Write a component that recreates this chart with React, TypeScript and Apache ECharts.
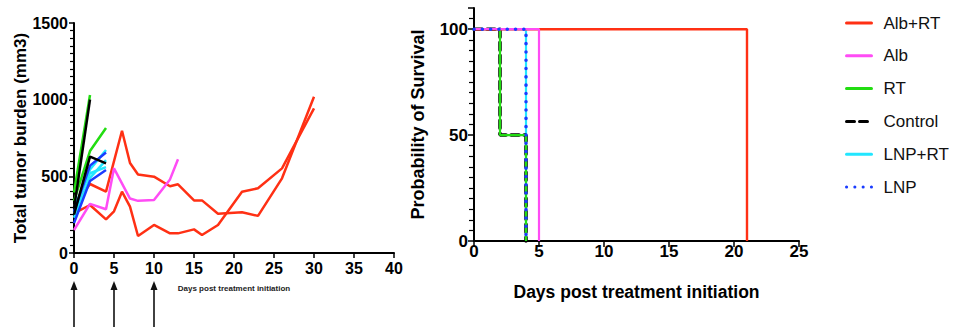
import React, { useEffect, useRef } from "react";
import * as echarts from "echarts";

// ---------- Tumor burden (left panel) ----------
const tumorXTicksMax = 40;
const albRtTumor1: [number, number][] = [[0, 306], [2, 450], [4, 400], [6, 797], [7, 587], [8, 512], [10, 498], [12, 435], [13, 448], [15, 343], [16, 343], [18, 256], [21, 266], [23, 242], [26, 487], [30, 1019]];
const albRtTumor2: [number, number][] = [[0, 259], [2, 313], [4, 219], [5, 272], [6, 400], [7, 302], [8, 111], [10, 183], [12, 128], [13, 128], [15, 154], [16, 117], [18, 183], [21, 400], [23, 422], [26, 552], [30, 943]];
const albTumor1: [number, number][] = [[0, 150], [2, 320], [4, 285], [5, 552], [7, 355], [8, 340], [10, 345], [12, 480], [13, 611]];
const rtTumor1: [number, number][] = [[0, 395], [2, 1030]];
const rtTumor2: [number, number][] = [[0, 340], [2, 665], [4, 815]];
const controlTumor1: [number, number][] = [[0, 290], [2, 1000]];
const controlTumor2: [number, number][] = [[0, 250], [2, 628], [4, 585]];
const lnpRtTumor1: [number, number][] = [[0, 255], [2, 545], [4, 672]];
const lnpRtTumor2: [number, number][] = [[0, 230], [2, 490], [4, 606]];
const lnpRtTumor3: [number, number][] = [[0, 300], [2, 520], [4, 560]];
const lnpTumor1: [number, number][] = [[0, 270], [2, 570], [4, 656]];
const lnpTumor2: [number, number][] = [[0, 195], [2, 470], [4, 541]];
const treatmentDays = [0, 5, 10];

// ---------- Survival (right panel) ----------
const survivalNames = ["Alb+RT", "Alb", "RT", "Control", "LNP+RT", "LNP"];
const survAlbRt: [number, number][] = [[0, 100], [21, 0]];
const survAlb: [number, number][] = [[0, 100], [5, 0]];
const survRt: [number, number][] = [[0, 100], [2, 50], [4, 0]];
const survControl: [number, number][] = [[0, 100], [2, 50], [4, 0]];
const survLnpRt: [number, number][] = [[0, 100], [4, 0]];
const survLnp: [number, number][] = [[0, 100], [4, 0]];

const RED = "#ff3014";
const MAGENTA = "#ff4cf5";
const GREEN = "#22dd11";
const BLACK = "#000000";
const CYAN = "#22e6ff";
const BLUE = "#1a3cff";

const SANS = '"Liberation Sans", Arial, sans-serif';

export default function App() {
  const ref = useRef<HTMLDivElement>(null);
  useEffect(() => {
    if (!ref.current) return;
    const chart = echarts.init(ref.current, undefined, { renderer: "svg" });

    const tumor = (name: string, data: [number, number][], color: string) => ({
      name,
      type: "line",
      xAxisIndex: 0,
      yAxisIndex: 0,
      data,
      symbol: "none",
      clip: false,
      lineStyle: { color, width: 2.5 },
      itemStyle: { color },
    });
    const surv = (name: string, data: [number, number][], color: string, width: number, type: any, z: number) => ({
      name,
      type: "line",
      xAxisIndex: 1,
      yAxisIndex: 1,
      data,
      step: "end",
      symbol: "none",
      clip: false,
      z,
      lineStyle: { color, width, type, cap: type === "solid" ? "butt" : "round" },
      itemStyle: { color },
    });

    const axisLine = { show: true, onZero: false, lineStyle: { color: "#000", width: 2 } };
    const plain = (v: number) => String(v);

    chart.setOption({
      animation: false,
      legend: {
        data: survivalNames,
        orient: "vertical",
        left: 845,
        top: 13,
        itemWidth: 25,
        itemHeight: 20,
        itemGap: 12.8,
        padding: 0,
        selectedMode: false,
        itemStyle: { opacity: 0 },
        lineStyle: { cap: "round", width: 3 },
        textStyle: { fontFamily: SANS, fontSize: 17, color: "#111", lineHeight: 20, padding: [0, 0, 0, 7] },
      },
      grid: [
        { left: 74, top: 23, width: 320, height: 230 },
        { left: 474, top: 8, width: 325, height: 233 },
      ],
      xAxis: [
        {
          type: "value",
          gridIndex: 0,
          min: 0,
          max: tumorXTicksMax,
          interval: 5,
          name: "Days post treatment initiation",
          nameLocation: "middle",
          nameGap: 31,
          nameTextStyle: { fontFamily: SANS, fontWeight: "bold", fontSize: 8, color: "#222" },
          axisLine,
          axisTick: { show: true, length: 5, lineStyle: { color: "#000", width: 1.5 } },
          axisLabel: { fontFamily: SANS, fontWeight: "bold", fontSize: 16, color: "#000", margin: 7, formatter: plain },
          splitLine: { show: false },
        },
        {
          type: "value",
          gridIndex: 1,
          min: 0,
          max: 25,
          interval: 5,
          name: "Days post treatment initiation",
          nameLocation: "middle",
          nameGap: 42,
          nameTextStyle: { fontFamily: SANS, fontWeight: "bold", fontSize: 17.5, color: "#000" },
          axisLine,
          axisTick: { show: true, length: 6, lineStyle: { color: "#000", width: 1.5 } },
          axisLabel: { fontFamily: SANS, fontWeight: "bold", fontSize: 17, color: "#000", margin: 2, formatter: plain },
          splitLine: { show: false },
        },
      ],
      yAxis: [
        {
          type: "value",
          gridIndex: 0,
          min: 0,
          max: 1500,
          interval: 500,
          name: "Total tumor burden (mm3)",
          nameLocation: "middle",
          nameGap: 45,
          nameTextStyle: { fontFamily: SANS, fontWeight: "bold", fontSize: 17, color: "#000" },
          axisLine,
          axisTick: { show: true, length: 5, lineStyle: { color: "#000", width: 1.5 } },
          minorTick: { show: true, splitNumber: 10, length: 4, lineStyle: { color: "#000", width: 1.2 } },
          axisLabel: { fontFamily: SANS, fontWeight: "bold", fontSize: 16, color: "#000", margin: 6, formatter: plain },
          splitLine: { show: false },
          minorSplitLine: { show: false },
        },
        {
          type: "value",
          gridIndex: 1,
          min: 0,
          max: 110,
          interval: 50,
          name: "Probability of Survival",
          nameLocation: "middle",
          nameGap: 47,
          nameTextStyle: { fontFamily: SANS, fontWeight: "bold", fontSize: 18, color: "#000" },
          axisLine,
          axisTick: { show: true, length: 6, lineStyle: { color: "#000", width: 1.5 } },
          minorTick: { show: true, splitNumber: 10, length: 5, lineStyle: { color: "#000", width: 1.2 } },
          axisLabel: { fontFamily: SANS, fontWeight: "bold", fontSize: 17, color: "#000", margin: 6, showMaxLabel: false, formatter: plain },
          splitLine: { show: false },
          minorSplitLine: { show: false },
        },
      ],
      series: [
        tumor("t-albrt-1", albRtTumor1, RED),
        tumor("t-albrt-2", albRtTumor2, RED),
        tumor("t-alb-1", albTumor1, MAGENTA),
        tumor("t-lnprt-1", lnpRtTumor1, CYAN),
        tumor("t-lnprt-2", lnpRtTumor2, CYAN),
        tumor("t-lnprt-3", lnpRtTumor3, CYAN),
        tumor("t-lnp-1", lnpTumor1, BLUE),
        tumor("t-lnp-2", lnpTumor2, BLUE),
        tumor("t-rt-1", rtTumor1, GREEN),
        tumor("t-rt-2", rtTumor2, GREEN),
        tumor("t-control-1", controlTumor1, BLACK),
        tumor("t-control-2", controlTumor2, BLACK),
        surv("LNP+RT", survLnpRt, CYAN, 2.2, "solid", 2),
        surv("Control", survControl, BLACK, 3.5, [8, 5], 3),
        surv("RT", survRt, GREEN, 2.2, "solid", 4),
        surv("Alb+RT", survAlbRt, RED, 2.4, "solid", 5),
        surv("Alb", survAlb, MAGENTA, 2.2, "solid", 6),
        surv("LNP", survLnp, BLUE, 3.5, [0.1, 8.2], 7),
      ],
    });

    // treatment arrows beneath the tumor x-axis, placed through the axis scale
    const arrows: any[] = [];
    treatmentDays.forEach((d) => {
      const x = chart.convertToPixel({ xAxisIndex: 0 }, d) as number;
      arrows.push({
        type: "line",
        shape: { x1: x, y1: 327, x2: x, y2: 287 },
        style: { stroke: "#111", lineWidth: 1.6 },
      });
      arrows.push({
        type: "polygon",
        shape: { points: [[x - 3.5, 290], [x + 3.5, 290], [x, 281]] },
        style: { fill: "#111" },
      });
    });
    chart.setOption({ graphic: arrows });

    return () => chart.dispose();
  }, []);

  return (
    <div
      ref={ref}
      style={{ position: "absolute", left: 0, top: 0, width: 967, height: 334, background: "#fff" }}
    />
  );
}
